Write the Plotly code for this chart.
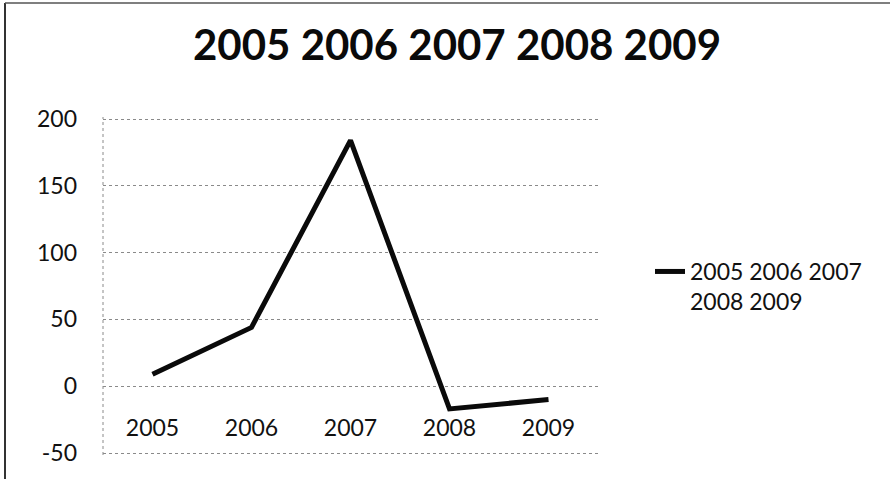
import plotly.graph_objects as go

# Series data
years = ["2005", "2006", "2007", "2008", "2009"]
values = [9, 44, 184, -17, -10]
series_name = "2005 2006 2007<br>2008 2009"
chart_title = "2005 2006 2007 2008 2009"
y_ticks = [-50, 0, 50, 100, 150, 200]
y_tick_text = [str(v) for v in y_ticks]

W, H = 890, 479
ml, mr, mt, mb = 103, 292, 117, 24
y_range = [-51.5, 201.5]
pw = W - ml - mr
ph = H - mt - mb

font_family = "Lato, 'Open Sans', sans-serif"

fig = go.Figure()
fig.add_trace(go.Scatter(
    x=years, y=values, mode="lines", name=series_name,
    line=dict(color="#0a0a0a", width=5),
    showlegend=True,
))

# category axis sits on the zero line of the value axis
zero_pos = (0 - y_range[0]) / (y_range[1] - y_range[0])

fig.update_layout(
    width=W, height=H,
    margin=dict(l=ml, r=mr, t=mt, b=mb),
    paper_bgcolor="white", plot_bgcolor="white",
    font=dict(family=font_family, color="#111111", size=23),
    title=dict(
        text="<b>" + chart_title + "</b>",
        x=457 / W, xanchor="center", xref="container",
        y=1 - 45 / H, yanchor="middle",
        font=dict(family=font_family, size=42, color="#0a0a0a"),
    ),
    xaxis=dict(
        type="category", range=[-0.5, 4.5],
        anchor="free", position=zero_pos,
        showgrid=False, zeroline=False, showline=False,
        ticks="", ticklabelstandoff=26,
        tickfont=dict(size=23, color="#111111"),
    ),
    yaxis=dict(
        range=y_range, tickvals=y_ticks, ticktext=y_tick_text,
        showgrid=True, gridcolor="#8a8a8a", gridwidth=1, griddash="dot",
        zeroline=False, showline=False, ticks="",
        ticklabelstandoff=25,
        tickfont=dict(size=23, color="#111111"),
    ),
    legend=dict(
        x=(650 - ml) / pw, xanchor="left",
        y=(H - mb - 250) / ph, yanchor="top",
        valign="top",
        font=dict(size=23, color="#111111"),
        bgcolor="rgba(0,0,0,0)",
        itemwidth=30,
    ),
    showlegend=True,
)

# dotted vertical value-axis line
fig.add_shape(type="line", xref="paper", yref="paper",
              x0=0, x1=0, y0=0, y1=1,
              line=dict(color="#8a8a8a", width=1, dash="dot"))

# chart frame: left and top edges
fx = (5 - ml) / pw
fy = (H - mb - 3) / ph
fig.add_shape(type="line", xref="paper", yref="paper",
              x0=fx, x1=fx, y0=(H - mb - H - 5) / ph, y1=fy,
              line=dict(color="#333333", width=2))
fig.add_shape(type="line", xref="paper", yref="paper",
              x0=fx, x1=(W - ml) / pw, y0=fy, y1=fy,
              line=dict(color="#555555", width=1.5))

fig.write_html("out.html")
